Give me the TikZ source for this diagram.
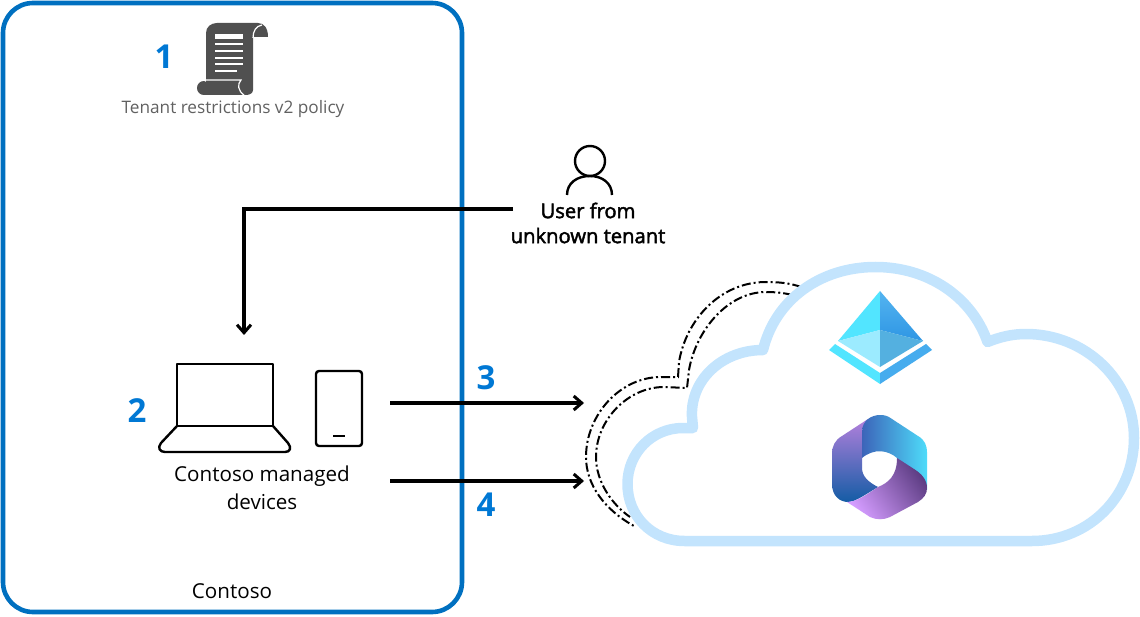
\documentclass[tikz,border=0pt]{standalone}
\usepackage{fontspec}
\setmainfont{Open Sans}
\newfontfamily\userfont[FakeBold=2.2]{Open Sans}
\usepackage{xcolor}
\usetikzlibrary{arrows.meta, positioning}
\definecolor{boxblue}{HTML}{0070C0}
\definecolor{numblue}{HTML}{0078D4}
\definecolor{cloudblue}{HTML}{C3E4FD}
\definecolor{scrollgray}{HTML}{505050}
\tikzset{
	tenantbox/.style={draw=boxblue, line width=4.6pt, rounded corners=30pt},
	cloudline/.style={draw=cloudblue, fill=white, line width=10.5pt, line join=round},
	edgeline/.style={draw=black, line width=2pt, dash pattern=on 9pt off 3pt on 2pt off 3pt},
	numlabel/.style={text=numblue, font=\fontsize{33}{33}\selectfont\bfseries, inner sep=0pt},
	caption/.style={align=center, inner sep=0pt, font=\fontsize{20.6}{28}\selectfont},
	iconline/.style={draw=black, line width=2.4pt, line join=round},
	myarrow/.style={-{Straight Barb[length=8pt,width=14pt,line width=3pt]}, line width=3.2pt, draw=black}
}
\begin{document}
\begin{tikzpicture}[x=1pt, y=-1pt]
	\useasboundingbox (0,0) rectangle (1140,617);

	%% ---- Contoso box ----
	\draw[tenantbox] (3,3) rectangle (462,612);

	%% ---- Policy scroll ----
	\fill[scrollgray] (206,82) -- (206,33) .. controls (206,27) and (211,23) .. (217,23)
		-- (258,23) .. controls (264,23) and (268,28) .. (268,37) -- (253,37) -- (253,90)
		.. controls (253,93) and (250,95) .. (246,95) -- (204,95)
		.. controls (200,95) and (197,92) .. (197,88) .. controls (197,84) and (200,81) .. (204,81) -- cycle;
	\draw[white, line width=1.2pt] (262,25) .. controls (256,26) and (253,31) .. (253,38);
	\draw[white, line width=1.2pt] (197,80) -- (241,80) .. controls (237,84) and (238,91) .. (244,95);
	\foreach \y/\xend/\wd in {36.5/243/5,44.5/243/2,51/243/2,58/243/2,64.5/243/2,71/237/2}{
		\draw[white, line width=\wd pt] (215,\y) -- (\xend,\y);
	}
	\node[numlabel] (num1) at (164,57) {1};
	\node[caption, text=scrollgray!90, font=\fontsize{17.2}{20}\selectfont] (policy) at (233,109) {Tenant restrictions v2 policy};

	%% ---- User ----
	\draw[iconline] (590,161) circle (15);
	\draw[iconline] (567,195) .. controls (567,183) and (577,176) .. (590,176)
		.. controls (602,176) and (612,183) .. (612,195);
	\node[caption, font=\userfont\fontsize{20.2}{25}\selectfont] (userlabel) at (588,223) {User from\\unknown tenant};

	%% ---- Managed devices ----
	\draw[iconline] (177,426) -- (177,364) -- (273,364) -- (273,426) -- cycle;
	\draw[iconline] (177,426) -- (161,443) .. controls (157,448) and (160,452) .. (165,452) -- (285,452)
		.. controls (290,452) and (292,448) .. (288,443) -- (273,426);
	\draw[iconline, rounded corners=3pt] (316,371) rectangle (362,446);
	\draw[iconline] (333,436) -- (345,436);
	\node[numlabel] (num2) at (137,411) {2};
	\node[caption] (devices) at (262,488) {Contoso managed\\devices};
	\node[caption] (contoso) at (232,591) {Contoso};

	%% ---- Dash-dot outlines behind the cloud ----
	\draw[edgeline] (801,287) .. controls (790,283) and (778,282) .. (766,282)
		.. controls (720,282) and (686,320) .. (679,362) -- (678,377) -- (661,377)
		.. controls (620,377) and (586,415) .. (586,457) .. controls (586,485) and (605,510) .. (634,526);
	\draw[edgeline] (792,295) .. controls (785,293) and (775,292) .. (766,292)
		.. controls (728,292) and (696,330) .. (689,370) -- (687,388) -- (664,387)
		.. controls (628,387) and (596,420) .. (596,457) .. controls (596,480) and (610,503) .. (630,517);

	%% ---- Cloud ----
	\draw[cloudline] (684.5,541) -- (1032,541) .. controls (1090,541) and (1134,495) .. (1134,438)
		.. controls (1134,380) and (1085,334) .. (1026,334) .. controls (1012,334) and (1000,337) .. (987.5,342)
		.. controls (972,297) and (928,267) .. (875.5,267) .. controls (820,267) and (775,300) .. (763,350)
		.. controls (722,350) and (690,380) .. (692,417) -- (693,428) -- (683,428)
		.. controls (652,428) and (627.5,453) .. (627.5,484) .. controls (627.5,516) and (652,541) .. (684.5,541) -- cycle;

	%% ---- Pyramid icon ----
	\fill[color={rgb,255:red,82;green,229;blue,255}] (880,291) -- (838,341) -- (880,330) -- cycle;
	\shade[top color={rgb,255:red,84;green,180;blue,240}, bottom color={rgb,255:red,46;green,150;blue,228}] (880,291) -- (923,341) -- (880,330) -- cycle;
	\fill[color={rgb,255:red,156;green,235;blue,255}] (838,341) -- (880,330) -- (880,367) -- cycle;
	\fill[color={rgb,255:red,84;green,176;blue,224}] (923,341) -- (880,330) -- (880,367) -- cycle;
	\fill[color={rgb,255:red,82;green,229;blue,255}] (829,350) -- (835,344) -- (880,373) -- (880,384) -- cycle;
	\fill[color={rgb,255:red,70;green,172;blue,238}] (932,350) -- (926,344) -- (880,373) -- (880,384) -- cycle;

	%% ---- Hexagon icon ----
	\shade[top color={rgb,255:red,178;green,128;blue,220}, middle color={rgb,255:red,122;green,124;blue,220}, bottom color={rgb,255:red,20;green,92;blue,165}]
		(868,419) -- (842,436) .. controls (835,440) and (832,446) .. (832,454) -- (832,484)
		.. controls (832,496) and (840,502) .. (848,502) .. controls (854,502) and (860,498) .. (878,487)
		.. controls (868,482) and (862,476) .. (862,468) -- (862,430) -- cycle;
	\shade[left color={rgb,255:red,60;green,100;blue,185}, middle color={rgb,255:red,70;green,160;blue,225}, right color={rgb,255:red,78;green,220;blue,250}]
		(862,458) -- (862,432) .. controls (862,420) and (872,415) .. (880,415) .. controls (885,415) and (888,416) .. (892,419)
		-- (918,436) .. controls (925,440) and (927,446) .. (927,452) -- (927,490) -- (897,458)
		.. controls (888,450) and (874,448) .. cycle;
	\shade[shading=axis, top color={rgb,255:red,92;green,60;blue,130}, bottom color={rgb,255:red,212;green,156;blue,255}, shading angle=-55]
		(897,458) -- (914,469) .. controls (922,474) and (927,480) .. (927,488)
		.. controls (927,494) and (924,498) .. (918,502) -- (890,517) .. controls (884,520) and (876,520) .. (870,517)
		-- (847,502) .. controls (856,502) and (866,495) .. (878,487) .. controls (888,483) and (897,476) .. cycle;

	%% ---- Connectors ----
	\coordinate (userout) at (513,209);
	\coordinate (devtop) at (244,335);
	\coordinate (out3) at (390,403);
	\coordinate (in3) at (584,403);
	\coordinate (out4) at (390,481);
	\coordinate (in4) at (584,481);
	\draw[myarrow] (userout) -| (devtop);
	\draw[myarrow] (out3) -- (in3);
	\draw[myarrow] (out4) -- (in4);
	\node[numlabel] (num3) at (486,378) {3};
	\node[numlabel] (num4) at (486,505) {4};
\end{tikzpicture}
\end{document}
